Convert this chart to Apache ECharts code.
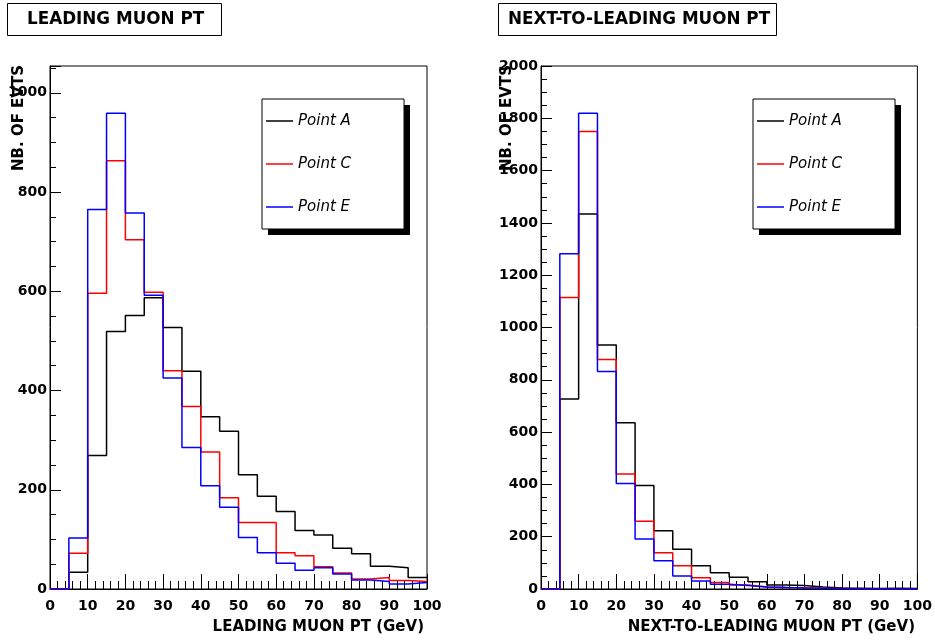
<!DOCTYPE html>
<html><head><meta charset="utf-8">
<script src="https://cdn.jsdelivr.net/npm/echarts@6/dist/echarts.min.js"></script>
<style>html,body{margin:0;padding:0;background:#fff}#c{width:935px;height:643px}</style>
</head><body><div id="c"></div>
<script>
// ---- data ----
const binEdges = [0,5,10,15,20,25,30,35,40,45,50,55,60,65,70,75,80,85,90,95];
const xMax = 100;
const seriesNames = ['Point A', 'Point C', 'Point E'];
const seriesColors = ['#000000', '#ff0000', '#0000ff'];
const leadA = [0, 34, 269, 519, 551, 587, 527, 439, 347, 318, 230, 187, 156, 118, 109, 82, 71, 46, 43, 23];
const leadC = [0, 72, 596, 863, 704, 598, 440, 368, 276, 184, 134, 134, 73, 67, 45, 32, 20, 23, 17, 15];
const leadE = [0, 103, 765, 959, 758, 592, 425, 285, 208, 165, 104, 73, 52, 38, 43, 30, 18, 15, 10, 13];
const nextA = [0, 727, 1434, 933, 636, 396, 223, 152, 89, 62, 45, 28, 15, 13, 8, 4, 3, 2, 3, 2];
const nextC = [0, 1115, 1750, 878, 440, 259, 139, 89, 43, 25, 15, 8, 6, 5, 3, 2, 1, 1, 1, 1];
const nextE = [0, 1282, 1819, 832, 403, 191, 108, 50, 31, 18, 13, 8, 6, 4, 3, 2, 1, 1, 1, 1];
const leadYMax = 1054;
const nextYMax = 2000;
const titles = ['LEADING MUON PT', 'NEXT-TO-LEADING MUON PT'];
const xTitles = ['LEADING MUON PT (GeV)', 'NEXT-TO-LEADING MUON PT (GeV)'];
const yTitle = 'NB. OF EVTS';

// ---- chart ----
const FONT = "'DejaVu Sans', sans-serif";
function stepData(vals) {
  const d = binEdges.map((e, i) => [e, vals[i]]);
  d.push([xMax, vals[vals.length - 1]]);
  return d;
}
function makeX(gi) {
  return {
    type: 'value', gridIndex: gi, min: 0, max: xMax, interval: 10,
    axisLine: { show: true, lineStyle: { color: '#000', width: 1 } },
    axisTick: { show: true, inside: true, length: 15, lineStyle: { color: '#000' } },
    minorTick: { show: true, splitNumber: 5, length: 8, lineStyle: { color: '#000' } },
    splitLine: { show: false },
    axisLabel: { color: '#000', fontFamily: FONT, fontWeight: 'bold', fontSize: 14, margin: 10 }
  };
}
function makeY(gi, max) {
  return {
    type: 'value', gridIndex: gi, min: 0, max: max, interval: 200,
    axisLine: { show: true, lineStyle: { color: '#000', width: 1 } },
    axisTick: { show: true, inside: true, length: 11, lineStyle: { color: '#000' } },
    minorTick: { show: true, splitNumber: 4, length: 6, lineStyle: { color: '#000' } },
    splitLine: { show: false },
    axisLabel: { color: '#000', fontFamily: FONT, fontWeight: 'bold', fontSize: 14, margin: 3,
      formatter: v => (v % 200 === 0 ? String(v) : '') }
  };
}
function makeSeries(gi, vals, k) {
  return {
    name: seriesNames[k], type: 'line', xAxisIndex: gi, yAxisIndex: gi,
    step: 'end', symbol: 'none', showSymbol: false,
    lineStyle: { color: seriesColors[k], width: 1.5 },
    itemStyle: { color: seriesColors[k] },
    data: stepData(vals), z: 3 + k
  };
}
function makeLegend(left) {
  return {
    orient: 'vertical', left: left, top: 99,
    padding: [14, 53, 14, 4], itemGap: 27, itemWidth: 27, itemHeight: 1.5,
    icon: 'rect',
    backgroundColor: '#fff', borderColor: '#000', borderWidth: 1,
    textStyle: { fontFamily: FONT, fontStyle: 'italic', fontSize: 15, color: '#000', lineHeight: 16 },
    data: seriesNames, selectedMode: false
  };
}
function yTitleText(x) {
  return { type: 'text', x: x, y: 65, rotation: Math.PI / 2,
    style: { text: yTitle, font: 'bold 15px ' + FONT, fill: '#000', textAlign: 'right', textVerticalAlign: 'middle' } };
}
function xTitleText(x, t) {
  return { type: 'text', x: x, y: 620,
    style: { text: t, font: 'bold 15px ' + FONT, fill: '#000', textAlign: 'right', textVerticalAlign: 'top' } };
}

const option = {
  animation: false,
  backgroundColor: '#fff',
  title: [
    { text: titles[0], left: 7, top: 3, padding: [8, 18, 8, 20], borderColor: '#000', borderWidth: 1,
      textStyle: { fontFamily: FONT, fontWeight: 'bold', fontSize: 16.8, color: '#000', lineHeight: 17 } },
    { text: titles[1], left: 498, top: 3, padding: [8, 7, 8, 10], borderColor: '#000', borderWidth: 1,
      textStyle: { fontFamily: FONT, fontWeight: 'bold', fontSize: 16.8, color: '#000', lineHeight: 17 } }
  ],
  grid: [
    { left: 50, top: 66, width: 377, height: 523, show: true, borderColor: '#000', borderWidth: 1, backgroundColor: 'transparent' },
    { left: 541, top: 66, width: 377, height: 523, show: true, borderColor: '#000', borderWidth: 1, backgroundColor: 'transparent' }
  ],
  xAxis: [makeX(0), makeX(1)],
  yAxis: [makeY(0, leadYMax), makeY(1, nextYMax)],
  legend: [makeLegend(262), makeLegend(753)],
  series: [
    makeSeries(0, leadA, 0), makeSeries(0, leadC, 1), makeSeries(0, leadE, 2),
    makeSeries(1, nextA, 0), makeSeries(1, nextC, 1), makeSeries(1, nextE, 2)
  ],
  graphic: [
    { type: 'rect', shape: { x: 268, y: 105, width: 142, height: 130 }, style: { fill: '#000' }, z: 0 },
    { type: 'rect', shape: { x: 759, y: 105, width: 142, height: 130 }, style: { fill: '#000' }, z: 0 },
    yTitleText(19), yTitleText(507),
    xTitleText(424, xTitles[0]), xTitleText(915, xTitles[1])
  ]
};
const chart = echarts.init(document.getElementById('c'), null, { renderer: 'canvas' });
chart.setOption(option);
</script>
</body></html>
